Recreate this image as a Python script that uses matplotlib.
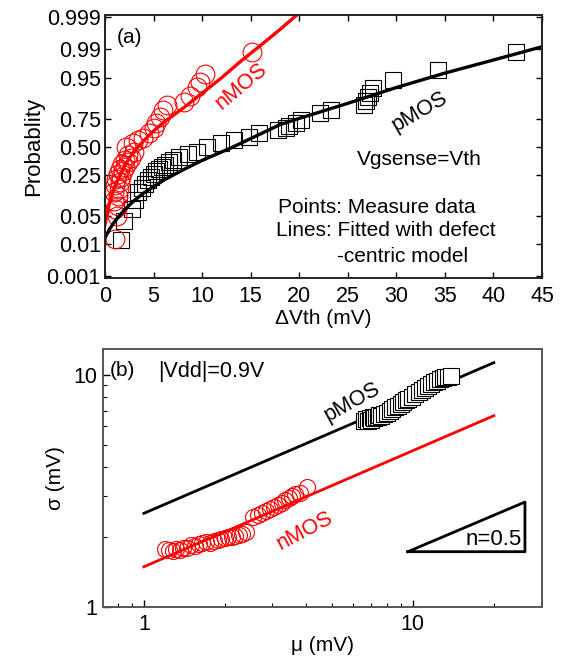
from statistics import NormalDist

import matplotlib
matplotlib.use("Agg")
import matplotlib.pyplot as plt
import numpy as np

plt.rcParams['font.family'] = ['Liberation Sans', 'DejaVu Sans']

# ---------- panel (a): cumulative probability vs dVth ----------
p_dv = [1.7, 2.0, 2.8, 3.1, 3.4, 3.8, 4.1, 4.4, 4.7, 5.0, 5.3, 5.6, 5.9, 6.2, 6.6,
        7.0, 7.6, 8.5, 9.5, 10.5, 11.9, 13.3, 14.8, 15.9, 17.8, 18.6, 19.0, 19.7,
        20.2, 22.1, 23.3, 26.7, 26.9, 27.1, 27.3, 27.6, 29.7, 34.3, 42.3]
p_prob = [0.013, 0.038, 0.068, 0.104, 0.142, 0.164, 0.189, 0.212, 0.236, 0.258,
          0.281, 0.302, 0.319, 0.337, 0.359, 0.382, 0.409, 0.432, 0.456, 0.50,
          0.536, 0.567, 0.595, 0.629, 0.659, 0.674, 0.691, 0.719, 0.742, 0.788,
          0.811, 0.841, 0.864, 0.881, 0.900, 0.919, 0.945, 0.967, 0.988]

n_dv = [1.0, 1.2, 1.0, 1.3, 0.9, 1.3, 0.9, 1.4, 1.0, 1.5, 1.1, 1.7, 1.3, 1.9, 1.5,
        2.1, 1.8, 2.4, 2.1, 2.7, 2.4, 3.0, 2.2, 2.9, 3.4, 3.95, 4.5, 5.0, 5.3, 5.7,
        6.0, 6.4, 8.1, 8.8, 9.45, 9.8, 10.3, 15.1]
n_prob = [0.014, 0.05, 0.07, 0.08, 0.10, 0.12, 0.14, 0.16, 0.18, 0.20, 0.22, 0.24,
          0.26, 0.28, 0.30, 0.32, 0.34, 0.36, 0.38, 0.40, 0.42, 0.45, 0.50, 0.535,
          0.565, 0.585, 0.63, 0.675, 0.715, 0.765, 0.81, 0.84, 0.86, 0.89, 0.925,
          0.94, 0.96, 0.988]

# fitted defect-centric curves
pfit_dv = [0, 0.5, 1, 2, 3, 4, 6, 8, 10, 13, 15, 18, 20, 25, 30, 35, 40, 45]
pfit_prob = [0.0154, 0.0256, 0.0375, 0.0668, 0.100, 0.136, 0.212, 0.291, 0.374,
             0.492, 0.579, 0.702, 0.752, 0.851, 0.922, 0.961, 0.981, 0.9916]
nfit_dv = [0, 0.5, 1, 2, 3, 4, 5, 6, 8, 10, 12, 14, 16, 18, 20]
nfit_prob = [0.032, 0.097, 0.171, 0.326, 0.460, 0.560, 0.648, 0.719, 0.821, 0.900,
             0.9505, 0.9798, 0.9922, 0.99744, 0.99931]

prob_ticks = [0.001, 0.01, 0.05, 0.25, 0.50, 0.75, 0.95, 0.99, 0.999]
prob_labels = ['0.001', '0.01', '0.05', '0.25', '0.50', '0.75', '0.95', '0.99', '0.999']

# ---------- panel (b): sigma vs mu ----------
pm_mu = [6.6, 6.7, 6.8, 6.9, 7.0, 7.1, 7.2, 7.3, 7.4, 7.5, 7.6, 7.8, 8.0, 8.2, 8.4,
         8.6, 8.8, 9.0, 9.2, 9.4, 9.6, 9.9, 10.2, 10.5, 10.8, 11.1, 11.4, 11.7,
         12.0, 12.3, 12.6, 12.9, 13.2, 13.5, 13.9]
pm_sig = [6.3, 6.45, 6.35, 6.5, 6.4, 6.55, 6.5, 6.6, 6.55, 6.7, 6.65, 6.8, 6.85,
          7.0, 7.1, 7.25, 7.35, 7.5, 7.6, 7.75, 7.85, 8.05, 8.25, 8.4, 8.6, 8.8,
          8.95, 9.1, 9.3, 9.4, 9.55, 9.65, 9.75, 9.8, 9.85]
nm_mu = [1.20, 1.24, 1.28, 1.32, 1.36, 1.40, 1.45, 1.50, 1.55, 1.60, 1.65, 1.70,
         1.76, 1.82, 1.88, 1.94, 2.00, 2.06, 2.12, 2.18, 2.25, 2.32, 2.40, 2.55,
         2.65, 2.75, 2.85, 2.95, 3.05, 3.15, 3.25, 3.35, 3.45, 3.55, 3.65, 3.80, 4.05]
nm_sig = [1.78, 1.76, 1.75, 1.77, 1.76, 1.79, 1.80, 1.84, 1.83, 1.87, 1.88, 1.90,
          1.89, 1.93, 1.94, 1.97, 1.98, 2.00, 2.01, 2.03, 2.05, 2.07, 2.10, 2.45,
          2.50, 2.55, 2.60, 2.65, 2.70, 2.75, 2.80, 2.88, 2.95, 3.00, 3.05, 3.10, 3.30]
pline_mu = [1, 20]
pline_sig = [2.53, 11.27]
nline_mu = [1, 20]
nline_sig = [1.49, 6.66]
tri_mu = [9.58, 26.1, 26.1, 9.58]
tri_sig = [1.73, 2.83, 1.73, 1.73]

nd = NormalDist()


def prob2z(p):
    p = np.clip(np.asarray(p, dtype=float), 1e-9, 1 - 1e-9)
    return np.vectorize(nd.inv_cdf, otypes=[float])(p)


def z2prob(z):
    return np.vectorize(nd.cdf, otypes=[float])(np.asarray(z, dtype=float))


fig = plt.figure(figsize=(5.62, 6.61), dpi=100)

# top panel
ax1 = fig.add_axes([0.1868, 0.5794, 0.7776, 0.3979])
ax1.set_yscale('function', functions=(prob2z, z2prob))
ax1.plot(p_dv, p_prob, 's', ms=11.5, mfc='none', mec='black', mew=0.8)
ax1.plot(n_dv, n_prob, 'o', ms=13.5, mfc='none', mec='red', mew=0.8)
ax1.plot(pfit_dv, pfit_prob, '-', color='black', lw=2.4)
ax1.plot(nfit_dv, nfit_prob, '-', color='red', lw=2.4)
ax1.set_xlim(0, 45)
ax1.set_ylim(0.00088, 0.99918)
ax1.set_xticks(range(0, 46, 5))
ax1.set_yticks(prob_ticks)
ax1.set_yticklabels(prob_labels)
ax1.minorticks_off()
ax1.tick_params(direction='in', top=True, right=True, length=4, width=1,
                labelsize=15.5)
ax1.tick_params(axis='x', pad=6)
ax1.tick_params(axis='y', pad=3)
for s in ax1.spines.values():
    s.set_linewidth(1.4)
    s.set_color('#222222')
ax1.set_xlabel('\u0394Vth (mV)', fontsize=15, labelpad=1)
ax1.set_ylabel('Probablity', fontsize=16, labelpad=2)

ax1.text(0.027, 0.916, '(a)', transform=ax1.transAxes, fontsize=15, va='center')
ax1.text(0.311, 0.730, 'nMOS', transform=ax1.transAxes, fontsize=15.5, color='red',
         rotation=40, ha='center', va='center', rotation_mode='anchor')
ax1.text(0.719, 0.631, 'pMOS', transform=ax1.transAxes, fontsize=15.5,
         rotation=30, ha='center', va='center', rotation_mode='anchor')
ax1.text(0.719, 0.449, 'Vgsense=Vth', transform=ax1.transAxes, fontsize=15,
         ha='center', va='center')
ax1.text(0.396, 0.270, 'Points: Measure data', transform=ax1.transAxes,
         fontsize=15, va='center')
ax1.text(0.391, 0.179, 'Lines: Fitted with defect', transform=ax1.transAxes,
         fontsize=15, va='center')
ax1.text(0.531, 0.080, '-centric model', transform=ax1.transAxes,
         fontsize=15, va='center')

# bottom panel
ax2 = fig.add_axes([0.1833, 0.0817, 0.7811, 0.3903])
ax2.set_xscale('log')
ax2.set_yscale('log')
ax2.plot(pline_mu, pline_sig, '-', color='black', lw=2)
ax2.plot(nline_mu, nline_sig, '-', color='red', lw=2)
ax2.plot(pm_mu, pm_sig, 's', ms=11, mfc='white', mec='black', mew=0.8)
ax2.plot(nm_mu, nm_sig, 'o', ms=11.5, mfc='none', mec='red', mew=0.8)
ax2.plot(tri_mu, tri_sig, '-', color='black', lw=2)
ax2.set_xlim(0.705, 30.2)
ax2.set_ylim(1, 12.9)
ax2.set_xticks([1, 10])
ax2.set_xticklabels(['1', '10'])
ax2.set_yticks([1, 10])
ax2.set_yticklabels(['1', '10'])
ax2.tick_params(which='both', direction='in', labelsize=15.5)
ax2.tick_params(which='major', length=5, width=1)
ax2.tick_params(which='minor', length=3, width=0.8)
ax2.tick_params(axis='x', which='both', pad=5)
ax2.tick_params(axis='y', which='both', pad=4)
for s in ax2.spines.values():
    s.set_linewidth(1.4)
    s.set_color('#555555')
ax2.set_xlabel('\u03bc (mV)', fontsize=15, labelpad=1)
ax2.set_ylabel('\u03c3 (mV)', fontsize=15, labelpad=6)

ax2.text(0.016, 0.915, '(b)', transform=ax2.transAxes, fontsize=15, va='center')
ax2.text(0.125, 0.911, '|Vdd|=0.9V', transform=ax2.transAxes, fontsize=15.5,
         va='center')
ax2.text(0.567, 0.795, 'pMOS', transform=ax2.transAxes, fontsize=15.5,
         rotation=29, ha='center', va='center', rotation_mode='anchor')
ax2.text(0.460, 0.295, 'nMOS', transform=ax2.transAxes, fontsize=15.5, color='red',
         rotation=28, ha='center', va='center', rotation_mode='anchor')
ax2.text(0.954, 0.26, 'n=0.5', transform=ax2.transAxes, fontsize=16,
         ha='right', va='center')

fig.savefig('out.png', dpi=100)
